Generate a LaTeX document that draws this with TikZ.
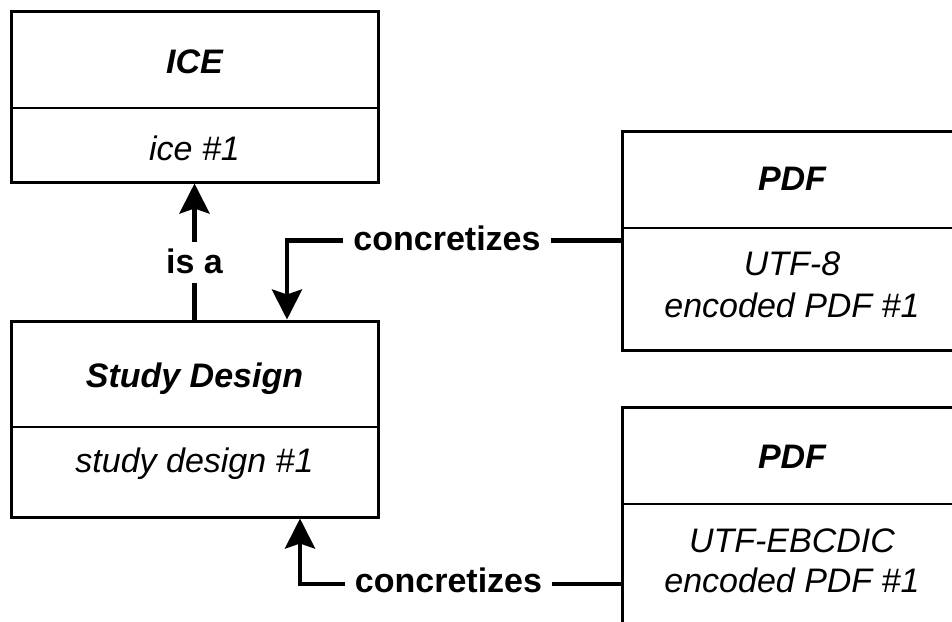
\documentclass[tikz,border=0pt]{standalone}
\usepackage{fontspec}
\setmainfont{Liberation Sans}
\usetikzlibrary{arrows.meta}
\begin{document}
\begin{tikzpicture}[x=1pt,y=-1pt,
  box/.style={draw, line width=3pt, rectangle, inner sep=0pt},
  divline/.style={line width=2.5pt},
  titletxt/.style={font=\fontsize{34}{40}\selectfont\bfseries\itshape, anchor=base, inner sep=0pt},
  bodytxt/.style={font=\fontsize{34}{40}\selectfont\itshape, anchor=base, inner sep=0pt},
  lab/.style={font=\fontsize{34}{40}\selectfont\bfseries, fill=white, anchor=base, inner xsep=10pt, inner ysep=0pt, text height=24pt, text depth=8pt},
  conn/.style={line width=4.5pt, -{Stealth[length=30pt,width=30pt,inset=5pt]}}]
\useasboundingbox (0,0) rectangle (952,621);
\fill[white] (0,0) rectangle (952,621);
\clip (0,0) rectangle (952,621);

% ICE
\node[box, minimum width=367pt, minimum height=171pt] (ice) at (194.5,96.5) {};
\draw[divline] (ice.west |- 0,108) -- (ice.east |- 0,108);
\node[titletxt] (icet) at (194.5,73) {ICE};
\node[bodytxt] (iceb) at (194.5,160) {ice \#1};

% Study Design
\node[box, minimum width=367pt, minimum height=196pt] (sd) at (194.5,419) {};
\draw[divline] (sd.west |- 0,427) -- (sd.east |- 0,427);
\node[titletxt] (sdt) at (194.5,387) {Study Design};
\node[bodytxt] (sdb) at (194.5,472) {study design \#1};

% PDF 1
\node[box, minimum width=340pt, minimum height=219pt] (pdfa) at (792,240.5) {};
\draw[divline] (pdfa.west |- 0,228) -- (pdfa.east |- 0,228);
\node[titletxt] (pdfat) at (792,190) {PDF};
\node[bodytxt] (pdfab1) at (792,275) {UTF-8};
\node[bodytxt] (pdfab2) at (792,317) {encoded PDF \#1};

% PDF 2
\node[box, minimum width=340pt, minimum height=354pt] (pdfb) at (792,584) {};
\draw[divline] (pdfb.west |- 0,504) -- (pdfb.east |- 0,504);
\node[titletxt] (pdfbt) at (792,468) {PDF};
\node[bodytxt] (pdfbb1) at (792,552) {UTF-EBCDIC};
\node[bodytxt] (pdfbb2) at (792,592) {encoded PDF \#1};

% connectors
\draw[conn] (sd.north) -- (ice.south);
\node[lab, text height=31pt, text depth=10pt, inner xsep=4pt] (isa) at (194.5,273) {is a};

\draw[conn] (pdfa.west) -| ([xshift=92.5pt]sd.north);
\node[lab] (conca) at (447,250) {concretizes};

\draw[conn] (pdfb.west) -| ([xshift=105.5pt]sd.south);
\node[lab] (concb) at (448.5,592) {concretizes};
\end{tikzpicture}
\end{document}
